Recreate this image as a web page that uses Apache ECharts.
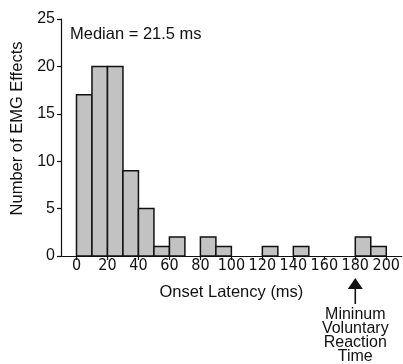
<!DOCTYPE html>
<html>
<head>
<meta charset="utf-8">
<script src="https://cdn.jsdelivr.net/npm/echarts@6/dist/echarts.min.js"></script>
<style>
  html, body { margin: 0; padding: 0; background: #fff; }
  #chart { width: 403px; height: 364px; }
</style>
</head>
<body>
<div id="chart"></div>
<script>
// histogram bins (ms) and counts
const binStarts = [0, 10, 20, 30, 40, 50, 60, 70, 80, 90, 100, 110, 120, 130, 140, 150, 160, 170, 180, 190];
const counts = [17, 20, 20, 9, 5, 1, 2, 0, 2, 1, 0, 0, 1, 0, 1, 0, 0, 0, 2, 1];
const binWidth = 10;
const xTicks = [0, 20, 40, 60, 80, 100, 120, 140, 160, 180, 200];
const reactionTime = 180;

const font = 'Liberation Sans, Arial, sans-serif';
const narrow = '"Liberation Sans Narrow", "Arial Narrow", "DejaVu Sans Condensed", sans-serif';
const chart = echarts.init(document.getElementById('chart'));

const data = binStarts.map((s, i) => [s, s + binWidth, counts[i]]);

const medianText = {
    type: 'text',
    left: 70,
    top: 26,
    style: { text: 'Median = 21.5 ms', font: '16.5px ' + font, fill: '#111' }
};

const option = {
    animation: false,
    backgroundColor: '#fff',
    grid: { left: 61, right: 1, top: 19, bottom: 108 },
    xAxis: {
        type: 'value',
        min: -10,
        max: 210,
        name: 'Onset Latency (ms)',
        nameLocation: 'middle',
        nameGap: 28,
        nameTextStyle: { fontFamily: font, fontSize: 16.5, color: '#111' },
        splitLine: { show: false },
        axisLine: { onZero: false, lineStyle: { color: '#111', width: 1.2 } },
        axisTick: { show: true, length: 4, lineStyle: { color: '#111', width: 1.2 }, customValues: xTicks },
        axisLabel: { fontFamily: narrow, fontSize: 16, color: '#111', margin: 2, customValues: xTicks }
    },
    yAxis: {
        type: 'value',
        min: 0,
        max: 25,
        interval: 5,
        name: 'Number of EMG Effects',
        nameLocation: 'middle',
        nameGap: 26,
        nameTextStyle: { fontFamily: font, fontSize: 16.5, color: '#111', padding: [0, 0, 0, 18] },
        splitLine: { show: false },
        axisLine: { show: true, onZero: false, lineStyle: { color: '#111', width: 1.2 } },
        axisTick: { show: true, length: 4, lineStyle: { color: '#111', width: 1.2 } },
        axisLabel: { fontFamily: font, fontSize: 16, color: '#111', margin: 6 }
    },
    series: [{
        type: 'custom',
        data: data,
        encode: { x: [0, 1], y: 2 },
        renderItem: function (params, api) {
            const v = api.value(2);
            if (!v) return null;
            const p0 = api.coord([api.value(0), 0]);
            const p1 = api.coord([api.value(1), v]);
            return {
                type: 'rect',
                shape: { x: p0[0], y: p1[1], width: p1[0] - p0[0], height: p0[1] - p1[1] },
                style: { fill: '#c2c2c2', stroke: '#111', lineWidth: 1.5 }
            };
        }
    }],
    graphic: [medianText]
};
chart.setOption(option);

// arrow + note under the 180 ms tick
const ax = chart.convertToPixel({ xAxisIndex: 0 }, reactionTime);
chart.setOption({
    graphic: [medianText, {
        type: 'line',
        shape: { x1: ax, y1: 286, x2: ax, y2: 304 },
        style: { stroke: '#111', lineWidth: 1.6 }
    }, {
        type: 'polygon',
        shape: { points: [[ax, 278], [ax - 7.5, 289], [ax + 7.5, 289]] },
        style: { fill: '#111' }
    }, {
        type: 'text',
        x: ax,
        y: 308,
        style: {
            text: 'Mininum\nVoluntary\nReaction\nTime',
            font: '16px ' + font,
            lineHeight: 14,
            fill: '#111',
            align: 'center',
            verticalAlign: 'top'
        }
    }]
});
</script>
</body>
</html>
